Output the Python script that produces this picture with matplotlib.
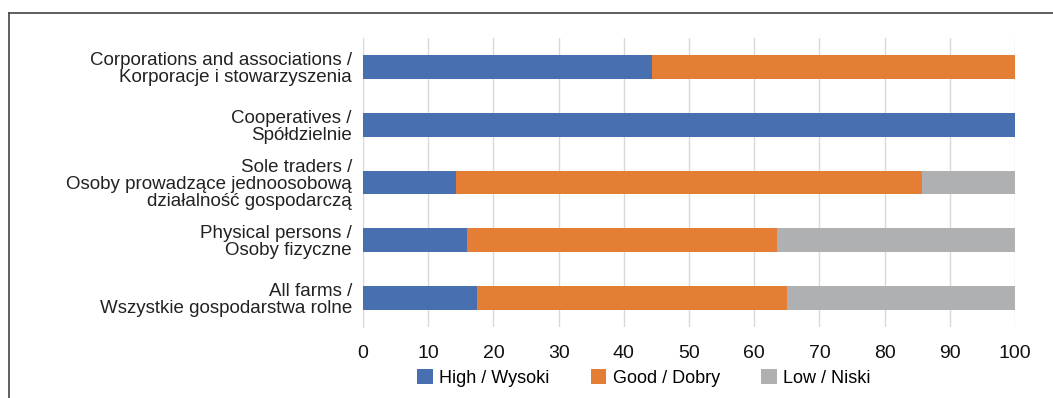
import matplotlib.pyplot as plt
from matplotlib.lines import Line2D
import numpy as np

plt.rcParams['font.family'] = ['Liberation Sans', 'DejaVu Sans']

categories = [
    "Corporations and associations /\nKorporacje i stowarzyszenia",
    "Cooperatives /\nSpółdzielnie",
    "Sole traders /\nOsoby prowadzące jednoosobową\ndziałalność gospodarczą",
    "Physical persons /\nOsoby fizyczne",
    "All farms /\nWszystkie gospodarstwa rolne",
]
high = [44.4, 100.0, 14.3, 16.0, 17.5]
good = [55.6, 0.0, 71.4, 47.5, 47.6]
low = [0.0, 0.0, 14.3, 36.5, 34.9]
series_labels = ["High / Wysoki", "Good / Dobry", "Low / Niski"]
colors = ["#4870B0", "#E47E35", "#AFB0B1"]
xticks = list(range(0, 101, 10))

fig = plt.figure(figsize=(10.53, 3.98), dpi=100)
ax = fig.add_axes([363 / 1053, 1 - 327 / 398, 652 / 1053, 289 / 398])

y = np.arange(len(categories))
left = np.zeros(len(categories))
for vals, lab, col in zip([high, good, low], series_labels, colors):
    ax.barh(y, vals, left=left, height=0.41, color=col, label=lab, zorder=3)
    left += np.array(vals)

ax.set_ylim(len(categories) - 0.5, -0.5)
ax.set_xlim(0, 100)
ax.set_xticks(xticks)
ax.set_yticks(y)
ax.set_yticklabels(categories, fontsize=13.5, color="#222222", linespacing=1.0)
ax.tick_params(axis='x', labelsize=14, length=0, pad=13, colors="#111111")
ax.tick_params(axis='y', length=0, pad=8)
ax.xaxis.grid(True, color="#D9D9D9", linewidth=1, zorder=0)
for side in ["top", "right", "bottom"]:
    ax.spines[side].set_visible(False)
ax.spines["left"].set_color("#D9D9D9")

ax.legend(loc="center", bbox_to_anchor=(644 / 1053, 1 - 378 / 398),
          bbox_transform=fig.transFigure, ncol=3, frameon=False,
          fontsize=13, handlelength=0.85, handleheight=0.85,
          handletextpad=0.35, columnspacing=2.3)

# outer frame (top and left edges)
fig.add_artist(Line2D([9 / 1053, 9 / 1053], [0, 1 - 13 / 398],
                      color="#444444", linewidth=1.2, transform=fig.transFigure))
fig.add_artist(Line2D([9 / 1053, 1], [1 - 13 / 398, 1 - 13 / 398],
                      color="#444444", linewidth=1.2, transform=fig.transFigure))

fig.savefig("out.png", dpi=100)
